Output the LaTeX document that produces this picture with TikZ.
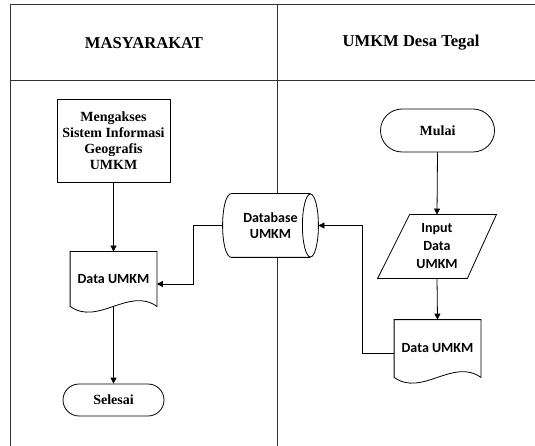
\documentclass[tikz,border=0pt]{standalone}
\usepackage{fontspec}
\setmainfont{Liberation Serif}
\newfontfamily\calibri{Carlito}
\usetikzlibrary{arrows.meta,shapes.misc,calc}

\begin{document}
\begin{tikzpicture}[x=1pt,y=-1pt,line width=0.8pt]
	\tikzstyle{garis}=[draw=black!80,line width=0.8pt];
	\tikzstyle{judul}=[font=\fontsize{16.6}{19}\selectfont\bfseries];
	\tikzstyle{proses}=[draw,fill=white,align=center,inner sep=0pt,minimum width=113pt,minimum height=83pt,font=\fontsize{14}{16}\selectfont\bfseries];
	\tikzstyle{terminal}=[draw,rounded rectangle,fill=white,inner sep=0pt,font=\fontsize{14}{16}\selectfont\bfseries];
	\tikzstyle{wadah}=[inner sep=0pt,align=center,font=\calibri\fontsize{14}{16}\selectfont\bfseries];
	\tikzstyle{panah}=[-{Triangle[length=6pt,width=6pt]}];

	\useasboundingbox (0,0) rectangle (535,446);
	% lajur
	\draw[garis] (10,446) -- (10,4) -- (535,4);
	\draw[garis] (10,80) -- (535,80);
	\draw[garis] (277,4) -- (277,446);
	\node[judul] (lajur1) at (144,43) {MASYARAKAT};
	\node[judul] (lajur2) at (411,43) {UMKM Desa Tegal};

	% simbol
	\node[proses] (akses) at (113.5,140.5) {Mengakses\\Sistem Informasi\\Geografis\\UMKM};
	\node[wadah,minimum width=86pt,minimum height=54pt] (data1) at (113.5,279) {Data UMKM};
	\node[terminal,minimum width=101pt,minimum height=32pt] (selesai) at (113.5,400) {Selesai};
	\node[wadah,fill=white,minimum width=95pt,minimum height=63pt] (db) at (270.5,225.5) {Database\\UMKM};
	\node[terminal,minimum width=114pt,minimum height=43pt] (mulai) at (437.5,130.5) {Mulai};
	\node[wadah,font=\calibri\fontsize{14}{18}\selectfont\bfseries,minimum width=118pt,minimum height=63pt] (input) at (437,246.5) {Input\\Data\\UMKM};
	\node[wadah,minimum width=86pt,minimum height=57pt] (data2) at (437.5,348.5) {Data UMKM};

	\draw (data1.north west) -- (data1.north east) -- (data1.south east) .. controls +(-28,-20) and +(28,20) .. (data1.south west) -- cycle;
	\draw (data2.north west) -- (data2.north east) -- (data2.south east) .. controls +(-28,-20) and +(28,20) .. (data2.south west) -- cycle;
	\draw ($(input.north west)+(32,0)$) -- (input.north east) -- ($(input.south east)+(-29,0)$) -- (input.south west) -- cycle;
	\draw ($(db.north west)+(9,0)$) -- ($(db.north east)+(-8,0)$) ($(db.south east)+(-8,0)$) -- ($(db.south west)+(9,0)$) .. controls +(-12,0) and +(-12,0) .. ($(db.north west)+(9,0)$);
	\draw ($(db.east)+(-8,0)$) ellipse [x radius=8pt,y radius=31.5pt];

	% alur
	\draw[panah] (akses.south) -- (data1.north);
	\draw[panah] (data1.south) -- (selesai.north);
	\draw[panah] (mulai.south) -- (input.north);
	\draw[panah] (input.south) -- (data2.north);
	\draw[panah] ($(data2.west)+(0,5)$) -- ++(-32,0) |- (db.east);
	\draw[panah] (db.west) -- ++(-29,0) |- ($(data1.east)+(0,5)$);
\end{tikzpicture}
\end{document}
